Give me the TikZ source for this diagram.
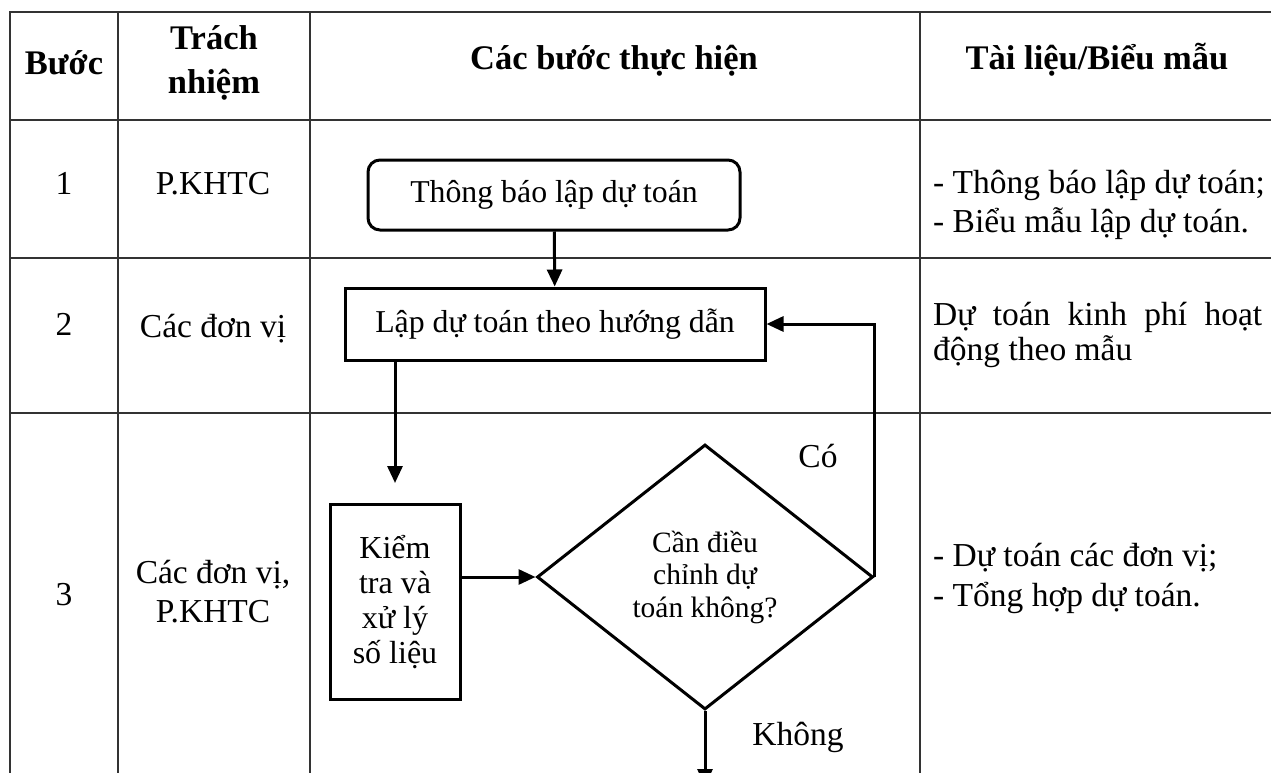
\documentclass[tikz,border=0pt]{standalone}
\usepackage{fontspec}
\setmainfont{Liberation Serif}
\usetikzlibrary{shapes.geometric,arrows.meta,positioning}

\newcommand{\txtbody}{\fontsize{33.5}{39}\selectfont}
\newcommand{\txthead}{\fontsize{34.5}{44}\selectfont\bfseries}
\newcommand{\txtflow}{\fontsize{31.8}{36}\selectfont}

\begin{document}
\begin{tikzpicture}[x=1pt, y=-1pt,
    every node/.style={font=\txtbody},
    kebang/.style={line width=1.6pt, black!80},
    hop/.style={draw, line width=3pt, align=center, inner sep=0pt, font=\txtflow},
    hoptron/.style={hop, rounded corners=12pt},
    thoi/.style={draw, diamond, line width=3pt, align=center, inner sep=0pt,
      minimum width=336pt, minimum height=265pt},
    muiten/.style={-{Triangle[length=17pt,width=15pt]}, line width=3pt}]

  % Page
  \clip (0,0) rectangle (1271,773);
  \fill[white] (0,0) rectangle (1271,773);

  % Table lines
  \draw[kebang] (1271,12) -| (10,773);
  \foreach \y in {120,258,413}
    \draw[kebang] (10,\y) -- (1271,\y);
  \foreach \x in {118,310,920}
    \draw[kebang] (\x,12) -- (\x,773);

  % Header row
  \node[font=\txthead, anchor=base] (hdBuoc) at (64,75) {Bước};
  \node[font=\txthead, align=center] (hdTrach) at (214,63) {Trách\\nhiệm};
  \node[font=\txthead, anchor=base] (hdCac) at (614,70) {Các bước thực hiện};
  \node[font=\txthead, anchor=base] (hdTai) at (1097,70) {Tài liệu/Biểu mẫu};

  % Step 1
  \node[anchor=base] (so1) at (64,194) {1};
  \node[anchor=base] (tn1) at (213,194) {P.KHTC};
  \node[anchor=base west, inner sep=0pt] (tl1a) at (933,193) {- Thông báo lập dự toán;};
  \node[anchor=base west, inner sep=0pt] (tl1b) at (933,232) {- Biểu mẫu lập dự toán.};

  % Step 2
  \node[anchor=base] (so2) at (64,335) {2};
  \node[anchor=base] (tn2) at (213,337) {Các đơn vị};
  \node[anchor=base west, inner sep=0pt] (tl2a) at (933,325) {\makebox[329pt][s]{Dự toán kinh phí hoạt}};
  \node[anchor=base west, inner sep=0pt] (tl2b) at (933,360) {động theo mẫu};

  % Step 3
  \node[anchor=base] (so3) at (64,605) {3};
  \node[align=center] (tn3) at (213,592) {Các đơn vị,\\P.KHTC};
  \node[anchor=base west, inner sep=0pt] (tl3a) at (933,566) {- Dự toán các đơn vị;};
  \node[anchor=base west, inner sep=0pt] (tl3b) at (933,606) {- Tổng hợp dự toán.};

  % Flow
  \node[hoptron, minimum width=372pt, minimum height=70pt] (thongbao) at (554,195) {Thông báo lập dự toán};
  \node[hop, minimum width=420pt, minimum height=72pt] (lapdt) at (555,324) {Lập dự toán theo hướng dẫn};
  \node[hop, minimum width=130pt, minimum height=195pt, font=\fontsize{32}{35}\selectfont] (kiemtra) at (395,602) {Kiểm\\tra và\\xử lý\\số liệu};
  \node[thoi, font=\fontsize{29.5}{32.5}\selectfont] (dieuchinh) at (705,577) {Cần điều\\chỉnh dự\\toán không?};
  \coordinate (ketthuc) at (705,786);

  \draw[muiten] (thongbao) -- (lapdt);
  \draw[muiten, shorten >=20pt] (lapdt.south -| kiemtra.north) -- (kiemtra.north);
  \draw[muiten] (kiemtra.east |- dieuchinh.west) -- (dieuchinh.west);
  \draw[muiten] (dieuchinh.east) |- (lapdt.east);
  \draw[muiten] (dieuchinh.south) -- (ketthuc);

  % Branch labels
  \node[anchor=base] (co) at (818,467) {Có};
  \node[anchor=base] (khong) at (798,745) {Không};

\end{tikzpicture}
\end{document}
